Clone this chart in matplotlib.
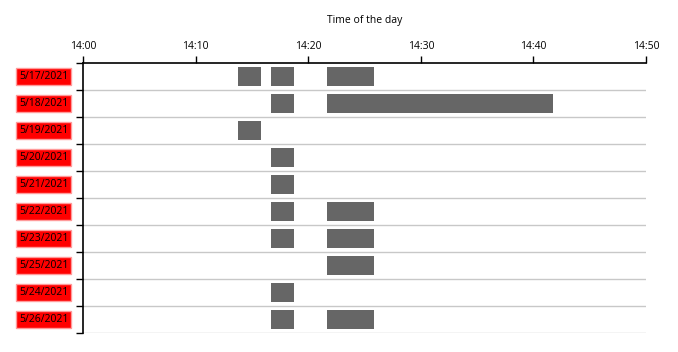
import matplotlib
matplotlib.use("Agg")
import matplotlib.pyplot as plt
from matplotlib.ticker import FuncFormatter, MultipleLocator

plt.rcParams['font.family'] = ['Open Sans', 'DejaVu Sans']

dates = ["5/17/2021", "5/18/2021", "5/19/2021", "5/20/2021", "5/21/2021",
         "5/22/2021", "5/23/2021", "5/25/2021", "5/24/2021", "5/26/2021"]
# intervals in minutes after 14:00 (start, end)
intervals = [
    [(13.75, 15.8), (16.7, 18.75), (21.7, 25.85)],
    [(16.7, 18.75), (21.7, 41.75)],
    [(13.75, 15.8)],
    [(16.7, 18.75)],
    [(16.7, 18.75)],
    [(16.7, 18.75), (21.7, 25.85)],
    [(16.7, 18.75), (21.7, 25.85)],
    [(21.7, 25.85)],
    [(16.7, 18.75)],
    [(16.7, 18.75), (21.7, 25.85)],
]
x_min, x_max = 0, 50
title = "Time of the day"

fig = plt.figure(figsize=(6.78, 3.52), dpi=100)
ax = fig.add_axes([83/678, 1-333/352, (646-83)/678, (333-63)/352])

n = len(dates)
for i, ivs in enumerate(intervals):
    for s, e in ivs:
        ax.barh(i + 0.5, e - s, left=s, height=0.74, color="#666666", linewidth=0)

ax.set_xlim(x_min, x_max)
ax.set_ylim(n, 0)
ax.xaxis.set_major_locator(MultipleLocator(10))
ax.xaxis.set_major_formatter(FuncFormatter(lambda v, p: f"{14 + int(v)//60}:{int(v)%60:02d}"))
ax.xaxis.tick_top()
ax.tick_params(axis='x', direction='out', length=5, width=1, labelsize=7.5, pad=3, color='black')
ax.set_yticks(range(n + 1))
ax.set_yticklabels([])
ax.tick_params(axis='y', direction='out', length=5, width=1, color='black')
for sp in ['right', 'bottom']:
    ax.spines[sp].set_visible(False)
for sp in ['top', 'left']:
    ax.spines[sp].set_linewidth(1.2)
    ax.spines[sp].set_color('black')
for k in range(1, n + 1):
    ax.axhline(k, color="#c8c8c8", linewidth=1, zorder=0)

for i, d in enumerate(dates):
    ax.annotate(d, xy=(0, i + 0.5), xycoords=('axes fraction', 'data'),
                xytext=(-10.5, 0), textcoords='offset points', ha='right', va='center',
                fontsize=7.5, color='black',
                bbox=dict(boxstyle='square,pad=0.28', facecolor='#ff0000', edgecolor='#ff9a9a', linewidth=1))

fig.text((83 + 646) / 2 / 678, 1 - 20 / 352, title, ha='center', va='center', fontsize=7.5)

fig.savefig("out.png", dpi=100)
